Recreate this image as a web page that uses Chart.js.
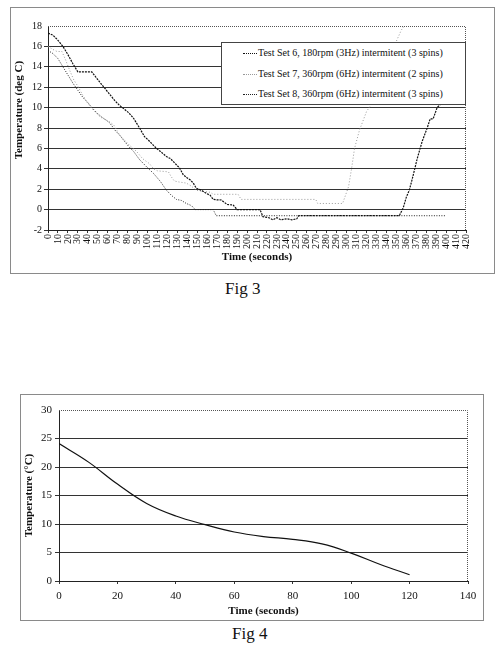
<!DOCTYPE html>
<html><head><meta charset="utf-8">
<script src="https://cdn.jsdelivr.net/npm/chart.js@4.4.1/dist/chart.umd.min.js"></script>
<style>
html,body{margin:0;padding:0;background:#fff;width:497px;height:663px;overflow:hidden;font-family:"Liberation Serif",serif;}
.frame{position:absolute;border:1px solid #8a8a8a;box-sizing:border-box;}
canvas{position:absolute;}
.cap{position:absolute;font-size:17px;color:#111;font-family:"Liberation Serif",serif;line-height:20px;}
#leg{position:absolute;left:221px;top:42px;width:245px;height:63px;border:1px solid #444;box-sizing:border-box;background:#fff;font-size:10px;color:#111;}
.row{position:absolute;left:0;height:14px;line-height:14px;white-space:nowrap;}
.sw{position:absolute;left:21px;top:7px;width:14px;height:0;}
.lt{position:absolute;left:36px;top:0;}
</style></head><body>
<div class="frame" style="left:10px;top:7px;width:485px;height:267px"></div>
<canvas id="c3" width="484" height="266" style="left:10px;top:7px"></canvas>
<div id="leg"></div>
<div class="cap" style="left:225px;top:279px">Fig 3</div>
<div class="frame" style="left:20px;top:394px;width:464px;height:227px"></div>
<canvas id="c4" width="463" height="226" style="left:20px;top:394px"></canvas>
<div class="cap" style="left:232px;top:624px">Fig 4</div>
<script>
// ---- Fig 3 data ----
const labels3 = [
  'Test Set 6, 180rpm (3Hz) intermitent (3 spins)',
  'Test Set 7, 360rpm (6Hz) intermitent (2 spins)',
  'Test Set 8, 360rpm (6Hz) intermitent (3 spins)'
];
const t6 = [0,5,10,15,20,25,30,44,48,52,57,62,67,72,76,81,86,92,97,101,106,109,113,119,123,129,132,136,140,143,146,149,154,159,163,166,170,174,176,180,186,190,213,216,222,226,230,234,240,245,250,252,353,357,360,363,366,371,376,381,384,387,391,395];
const v6 = [17.3,17.1,16.6,16.0,15.2,14.3,13.5,13.5,13.0,12.5,11.9,11.3,10.7,10.2,9.9,9.5,8.95,8.0,7.15,6.8,6.3,6.0,5.7,5.2,5.0,4.4,4.1,3.4,3.1,2.9,2.6,2.1,1.9,1.6,1.4,1.0,0.95,0.94,0.8,0.5,0.45,0.0,0.0,-0.7,-0.8,-1.0,-0.8,-1.0,-0.9,-1.0,-0.9,-0.6,-0.6,0.2,1.2,1.9,3.0,5.0,6.7,8.0,8.9,8.9,10.0,10.4];
const t7 = [0,5,9,14,18,22,26,30,35,40,45,52,58,62,66,72,77,82,89,95,102,106,110,121,124,127,132,139,144,149,155,163,166,191,194,269,271,296,302,305,308,313,320,324,330,340,350,355,358];
const v7 = [16.0,15.7,15.5,15.5,14.6,13.6,12.7,12.1,11.2,10.4,9.8,9.1,8.8,8.6,8.3,7.3,6.8,6.3,5.7,5.0,4.5,4.0,3.8,3.7,3.2,2.8,2.7,2.6,2.3,1.9,1.8,1.7,1.5,1.5,1.0,1.0,0.6,0.6,2.25,4.0,6.0,7.8,9.6,10.2,11.8,14.3,16.5,17.6,18.0];
const t8 = [0,5,10,15,20,25,30,35,40,45,50,55,58,62,68,72,76,81,86,92,99,106,113,119,124,129,134,139,144,148,166,169,400];
const v8 = [15.6,15.3,14.8,14.0,13.2,12.4,11.7,11.0,10.5,9.9,9.4,9.0,8.8,8.5,7.7,7.3,6.8,6.2,5.7,4.9,4.2,3.55,2.75,1.9,1.4,1.0,0.9,0.6,0.4,0.0,0.0,-0.6,-0.6];
// ---- Fig 4 data ----
const t4 = [0,10,20,30,40,50,60,70,80,90,100,110,120];
const v4 = [24.1,20.9,17.0,13.6,11.4,9.9,8.6,7.8,7.3,6.5,4.9,2.9,1.1];

const pts = (ts, vs) => ts.map((x, i) => ({x: x, y: vs[i]}));
const serif = 'Liberation Serif';

const dottedFrame = {
  id: 'dottedFrame',
  afterDraw(chart) {
    const {ctx, chartArea: a} = chart;
    ctx.save();
    ctx.strokeStyle = '#555';
    ctx.lineWidth = 1;
    ctx.setLineDash([1, 1]);
    ctx.beginPath();
    ctx.moveTo(Math.round(a.left), Math.round(a.top) + 0.5);
    ctx.lineTo(Math.round(a.right) - 0.5, Math.round(a.top) + 0.5);
    ctx.lineTo(Math.round(a.right) - 0.5, Math.round(a.bottom));
    ctx.stroke();
    ctx.restore();
  }
};

const chart3 = new Chart(document.getElementById('c3'), {
  type: 'line',
  data: {datasets: [
    {label: labels3[0], data: pts(t6, v6), borderColor: '#111', borderWidth: 1.2, borderDash: [2, 1], pointRadius: 0, fill: false, tension: 0},
    {label: labels3[1], data: pts(t7, v7), borderColor: '#999', borderWidth: 1, borderDash: [1, 2], pointRadius: 0, fill: false, tension: 0},
    {label: labels3[2], data: pts(t8, v8), borderColor: '#222', borderWidth: 1, borderDash: [1, 1.5], pointRadius: 0, fill: false, tension: 0}
  ]},
  options: {
    responsive: false, animation: false,
    layout: {padding: {top: 19, right: 28, left: 0, bottom: 0}},
    plugins: {legend: {display: false}, tooltip: {enabled: false}},
    scales: {
      x: {type: 'linear', min: 0, max: 420,
        afterFit(s) { s.height = 43; },
        ticks: {stepSize: 10, autoSkip: false, minRotation: 90, maxRotation: 90, padding: 1, color: '#111', font: {family: serif, size: 10}},
        grid: {drawOnChartArea: false, drawTicks: true, tickLength: 3, color: '#333'},
        border: {color: '#222', width: 1},
        title: {display: true, text: 'Time (seconds)', color: '#111', font: {family: serif, size: 11, weight: 'bold'}, padding: {top: 0, bottom: 9}}
      },
      y: {min: -2, max: 18,
        afterFit(s) { s.width = 38; },
        ticks: {stepSize: 2, padding: 2, color: '#111', font: {family: serif, size: 10}},
        grid: {color: (c) => (c.tick && c.tick.value === 18) ? 'rgba(0,0,0,0)' : '#333', tickLength: 4},
        border: {color: '#222'},
        title: {display: true, text: '             Temperature (deg C)', color: '#111', font: {family: serif, size: 11, weight: 'bold'}, padding: {top: 3, bottom: 0}}
      }
    }
  },
  plugins: [dottedFrame]
});

// HTML legend built from the datasets
const leg = document.getElementById('leg');
const rowTops = [3, 23.5, 44];
chart3.data.datasets.forEach((d, i) => {
  const row = document.createElement('div');
  row.className = 'row';
  row.style.top = rowTops[i] + 'px';
  const sw = document.createElement('span');
  sw.className = 'sw';
  sw.style.borderTop = '1px dotted ' + d.borderColor;
  const tx = document.createElement('span');
  tx.className = 'lt';
  tx.textContent = d.label;
  row.appendChild(sw); row.appendChild(tx);
  leg.appendChild(row);
});

new Chart(document.getElementById('c4'), {
  type: 'line',
  data: {datasets: [
    {label: 'Temperature', data: pts(t4, v4), borderColor: '#111', borderWidth: 1.2, pointRadius: 0, fill: false, tension: 0.4}
  ]},
  options: {
    responsive: false, animation: false,
    layout: {padding: {top: 16, right: 15, left: 0, bottom: 0}},
    plugins: {legend: {display: false}, tooltip: {enabled: false}},
    scales: {
      x: {type: 'linear', min: 0, max: 140,
        afterFit(s) { s.height = 39; },
        ticks: {stepSize: 20, padding: 6, color: '#111', font: {family: serif, size: 11}, maxRotation: 0},
        grid: {drawOnChartArea: false, drawTicks: true, tickLength: 3, color: '#333'},
        border: {color: '#222'},
        title: {display: true, text: 'Time (seconds)', color: '#111', font: {family: serif, size: 11, weight: 'bold'}, padding: {top: 0, bottom: 2}}
      },
      y: {min: 0, max: 30,
        afterFit(s) { s.width = 39; },
        ticks: {stepSize: 5, padding: 3, color: '#111', font: {family: serif, size: 11}},
        grid: {color: (c) => (c.tick && c.tick.value === 30) ? 'rgba(0,0,0,0)' : '#333', tickLength: 4},
        border: {color: '#222'},
        title: {display: true, text: 'Temperature (°C)', color: '#111', font: {family: serif, size: 11, weight: 'bold'}, padding: {top: 3, bottom: 0}}
      }
    }
  },
  plugins: [dottedFrame]
});
</script>
</body></html>
